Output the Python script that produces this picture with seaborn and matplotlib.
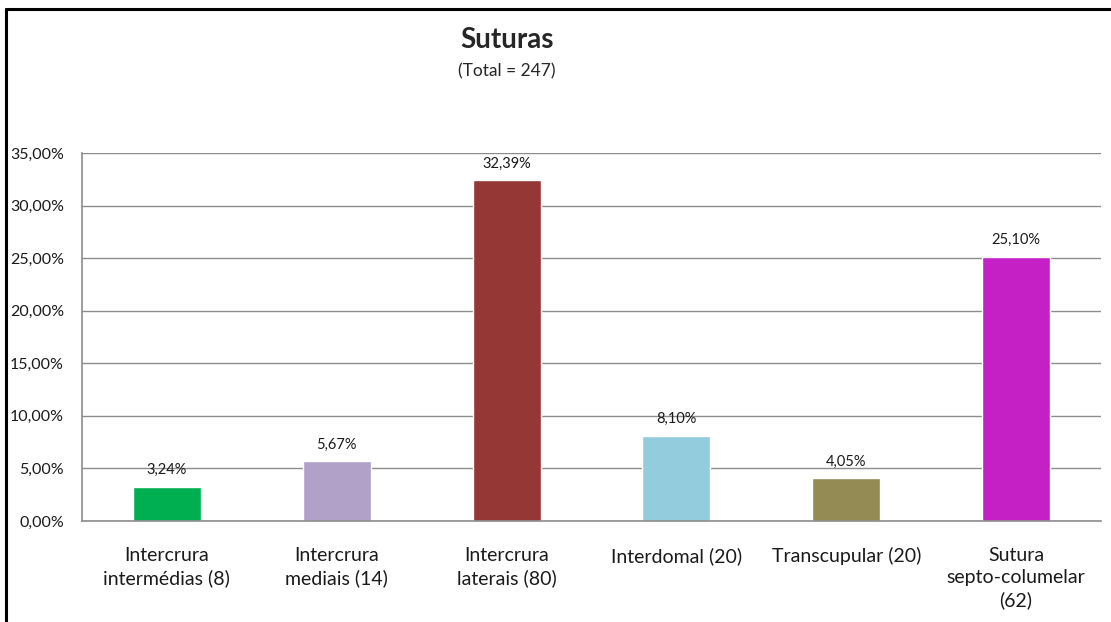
import matplotlib
matplotlib.use('Agg')
import matplotlib.pyplot as plt
import seaborn as sns
import pandas as pd
from matplotlib.lines import Line2D
from matplotlib.ticker import FuncFormatter

# Chart data
categories = ['Intercrura\nintermédias (8)', 'Intercrura\nmediais (14)', 'Intercrura\nlaterais (80)',
              'Interdomal (20)', 'Transcupular (20)', 'Sutura\nsepto-columelar\n(62)']
percentages = [3.24, 5.67, 32.39, 8.10, 4.05, 25.10]
bar_colors = ['#00B050', '#B1A0C7', '#953735', '#93CDDD', '#948A54', '#C520C5']

sns.set_style('white')
plt.rcParams['font.family'] = ['Lato', 'DejaVu Sans']

df = pd.DataFrame({'cat': categories, 'pct': percentages})

fig = plt.figure(figsize=(11.11, 6.22), dpi=100)
ax = fig.add_axes([0.0738, 0.1624, 0.9172, 0.5916])
sns.barplot(data=df, x='cat', y='pct', hue='cat', palette=bar_colors, legend=False,
            width=0.4, saturation=1, ax=ax)

ax.set_ylim(0, 35)
ax.set_xlim(-0.5, 5.5)
ax.set_yticks(range(0, 36, 5))
ax.yaxis.set_major_formatter(FuncFormatter(lambda v, p: f'{v:.2f}%'.replace('.', ',')))
ax.grid(axis='y', color='#8c8c8c', linewidth=1)
ax.set_axisbelow(True)
for s in ['top', 'right']:
    ax.spines[s].set_visible(False)
for s in ['left', 'bottom']:
    ax.spines[s].set_color('#8c8c8c')
    ax.spines[s].set_linewidth(1.2)
ax.tick_params(axis='y', labelsize=11.5, pad=13, colors='#1a1a1a', length=0)
ax.tick_params(axis='x', labelsize=14, pad=19, colors='#1a1a1a', length=0)
for lbl in ax.get_xticklabels():
    lbl.set_linespacing(1.35)
ax.set_xlabel('')
ax.set_ylabel('')

for i, v in enumerate(percentages):
    ax.annotate(f'{v:.2f}%'.replace('.', ','), (i, v), xytext=(0, 7),
                textcoords='offset points', ha='center', va='bottom', fontsize=10.5, color='#1a1a1a')

fig.text(507 / 1111, 1 - 40 / 622, 'Suturas', ha='center', va='center', fontsize=20, fontweight='bold')
fig.text(507 / 1111, 1 - 71 / 622, '(Total = 247)', ha='center', va='center', fontsize=12.5)

# outer frame of the chart
fig.add_artist(Line2D([6 / 1111, 1], [1 - 9 / 622, 1 - 9 / 622], color='black', linewidth=2.2,
                      transform=fig.transFigure))
fig.add_artist(Line2D([6 / 1111, 6 / 1111], [0, 1 - 9 / 622], color='black', linewidth=2.2,
                      transform=fig.transFigure))

plt.savefig('out.png', dpi=100)
